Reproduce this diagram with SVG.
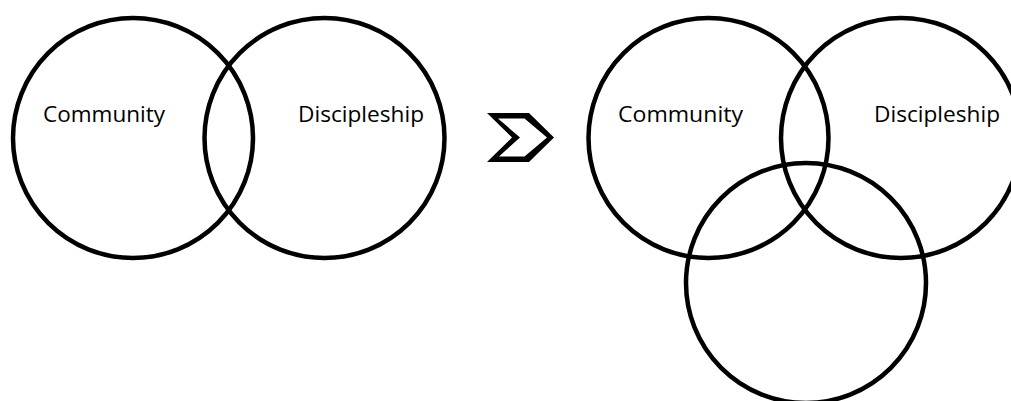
<svg xmlns="http://www.w3.org/2000/svg" width="1011" height="401" viewBox="0 0 1011 401">
<style>
.c{fill:none;stroke:#000;stroke-width:4.5}
.t{font-family:"Open Sans","Liberation Sans",sans-serif;font-size:22px;fill:#000}
</style>
<rect width="1011" height="401" fill="#fff"/>
<g id="left-community"><circle class="c" cx="133" cy="138" r="120"/><text class="t" x="43" y="122" textLength="122" lengthAdjust="spacingAndGlyphs">Community</text></g>
<g id="left-discipleship"><circle class="c" cx="324.5" cy="138" r="120"/><text class="t" x="298" y="122" textLength="126" lengthAdjust="spacingAndGlyphs">Discipleship</text></g>
<g id="arrow"><path d="M487,113 L529,113 L554,137.5 L529,162 L487,162 L512,137.5 Z M498,118.5 L524.5,118.5 L547,137.5 L524.5,156.5 L499,156.5 L520,137.5 Z" fill="#000" fill-rule="evenodd"/></g>
<g id="right-community"><circle class="c" cx="708.5" cy="138" r="120"/><text class="t" x="618" y="122" textLength="125" lengthAdjust="spacingAndGlyphs">Community</text></g>
<g id="right-discipleship"><circle class="c" cx="901" cy="138" r="120"/><text class="t" x="874" y="122" textLength="126" lengthAdjust="spacingAndGlyphs">Discipleship</text></g>
<g id="right-third"><circle class="c" cx="806" cy="283" r="120"/></g>
<g id="connectors"/>
</svg>
